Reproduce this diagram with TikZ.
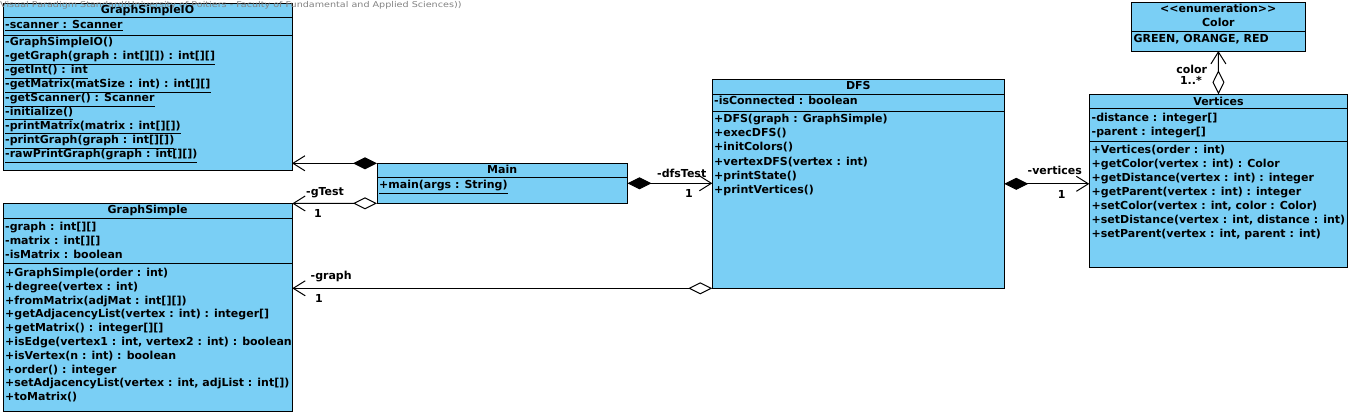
\documentclass[tikz,border=0pt]{standalone}
\usepackage{fontspec}
\usepackage{graphicx}
\setmainfont{DejaVu Sans}
\usetikzlibrary{arrows.meta}
\definecolor{vpblue}{RGB}{122,207,245}
\definecolor{wmgray}{RGB}{130,130,130}
\newcommand\rowtext[4]{\node[txt] (#1) at (#2,#3) {#4};}
\begin{document}
\begin{tikzpicture}[x=1pt,y=-1pt,
  font=\fontsize{11}{13}\selectfont\bfseries,
  cls/.style={draw=black, fill=vpblue, line width=1pt, inner sep=0pt, outer sep=0pt, anchor=north west},
  txt/.style={inner sep=0pt, anchor=mid west},
  ttl/.style={inner sep=0pt, anchor=mid},
  lbl/.style={inner sep=0pt},
  sepline/.style={line width=1pt},
  comp/.style={line width=1pt, {Diamond[length=24pt,width=12pt]}-{Straight Barb[length=12pt,width=15pt]}},
  aggr/.style={line width=1pt, {Diamond[open,fill=white,length=24pt,width=12pt]}-{Straight Barb[length=12pt,width=15pt]}},
  wm/.style={inner sep=0pt, anchor=mid west, text=wmgray, font=\fontsize{8}{9}\selectfont\mdseries}
]
\useasboundingbox (0,0) rectangle (1351,415);

% ---------- GraphSimpleIO ----------
\node[cls, minimum width=289pt, minimum height=167pt] (gsio) at (3,3) {};
\node[wm] (watermark) at (0,5) {\scalebox{1.2}[1]{Visual Paradigm Standard(University of Poitiers - Faculty of Fundamental and Applied Sciences))}};
\draw[sepline] (3,17.7) -- (292,17.7);
\draw[sepline] (3,35.5) -- (292,35.5);
\node[ttl] (gsio-t) at (147.5,10.8) {GraphSimpleIO};
\rowtext{gsio-a1}{5}{25.5}{\underline{-scanner : Scanner}}
\rowtext{gsio-m1}{5}{43.2}{-GraphSimpleIO()}
\rowtext{gsio-m2}{5}{57.2}{\underline{-getGraph(graph : int[][]) : int[][]}}
\rowtext{gsio-m3}{5}{71.2}{\underline{-getInt() : int}}
\rowtext{gsio-m4}{5}{85.2}{\underline{-getMatrix(matSize : int) : int[][]}}
\rowtext{gsio-m5}{5}{99.2}{\underline{-getScanner() : Scanner}}
\rowtext{gsio-m6}{5}{113.2}{\underline{-initialize()}}
\rowtext{gsio-m7}{5}{127.2}{\underline{-printMatrix(matrix : int[][])}}
\rowtext{gsio-m8}{5}{141.2}{\underline{-printGraph(graph : int[][])}}
\rowtext{gsio-m9}{5}{155.2}{\underline{-rawPrintGraph(graph : int[][])}}

% ---------- GraphSimple ----------
\node[cls, minimum width=289.3pt, minimum height=208pt] (gs) at (3,203.5) {};
\draw[sepline] (3,218.3) -- (292.3,218.3);
\draw[sepline] (3,263.3) -- (292.3,263.3);
\node[ttl] (gs-t) at (147.6,210.8) {GraphSimple};
\rowtext{gs-a1}{5}{227.8}{-graph : int[][]}
\rowtext{gs-a2}{5}{241.8}{-matrix : int[][]}
\rowtext{gs-a3}{5}{255.8}{-isMatrix : boolean}
\rowtext{gs-m1}{5}{273.8}{+GraphSimple(order : int)}
\rowtext{gs-m2}{5}{287.6}{+degree(vertex : int)}
\rowtext{gs-m3}{5}{301.4}{+fromMatrix(adjMat : int[][])}
\rowtext{gs-m4}{5}{315.2}{+getAdjacencyList(vertex : int) : integer[]}
\rowtext{gs-m5}{5}{329.0}{+getMatrix() : integer[][]}
\rowtext{gs-m6}{5}{342.8}{+isEdge(vertex1 : int, vertex2 : int) : boolean}
\rowtext{gs-m7}{5}{356.6}{+isVertex(n : int) : boolean}
\rowtext{gs-m8}{5}{370.4}{+order() : integer}
\rowtext{gs-m9}{5}{384.2}{+setAdjacencyList(vertex : int, adjList : int[])}
\rowtext{gs-m10}{5}{398.0}{+toMatrix()}

% ---------- Main ----------
\node[cls, minimum width=250.5pt, minimum height=40pt] (main) at (377,163.3) {};
\draw[sepline] (377,177.7) -- (627.5,177.7);
\node[ttl] (main-t) at (502.2,170.5) {Main};
\rowtext{main-m1}{379}{186.2}{\underline{+main(args : String)}}

% ---------- DFS ----------
\node[cls, minimum width=292pt, minimum height=209pt] (dfs) at (712.3,79.3) {};
\draw[sepline] (712.3,94) -- (1004.3,94);
\draw[sepline] (712.3,111.7) -- (1004.3,111.7);
\node[ttl] (dfs-t) at (858.3,87.2) {DFS};
\rowtext{dfs-a1}{714}{102.2}{-isConnected : boolean}
\rowtext{dfs-m1}{714}{119.8}{+DFS(graph : GraphSimple)}
\rowtext{dfs-m2}{714}{134.0}{+execDFS()}
\rowtext{dfs-m3}{714}{148.2}{+initColors()}
\rowtext{dfs-m4}{714}{162.4}{+vertexDFS(vertex : int)}
\rowtext{dfs-m5}{714}{176.6}{+printState()}
\rowtext{dfs-m6}{714}{190.8}{+printVertices()}

% ---------- Vertices ----------
\node[cls, minimum width=258.4pt, minimum height=173pt] (vert) at (1089.3,94.3) {};
\draw[sepline] (1089.3,108.3) -- (1347.7,108.3);
\draw[sepline] (1089.3,141.7) -- (1347.7,141.7);
\node[ttl] (vert-t) at (1218.5,103.2) {Vertices};
\rowtext{vert-a1}{1091.5}{118.8}{-distance : integer[]}
\rowtext{vert-a2}{1091.5}{132.8}{-parent : integer[]}
\rowtext{vert-m1}{1091.5}{150.5}{+Vertices(order : int)}
\rowtext{vert-m2}{1091.5}{164.5}{+getColor(vertex : int) : Color}
\rowtext{vert-m3}{1091.5}{178.6}{+getDistance(vertex : int) : integer}
\rowtext{vert-m4}{1091.5}{192.6}{+getParent(vertex : int) : integer}
\rowtext{vert-m5}{1091.5}{206.7}{+setColor(vertex : int, color : Color)}
\rowtext{vert-m6}{1091.5}{220.7}{+setDistance(vertex : int, distance : int)}
\rowtext{vert-m7}{1091.5}{234.8}{+setParent(vertex : int, parent : int)}

% ---------- Color ----------
\node[cls, minimum width=173.3pt, minimum height=48.3pt] (color) at (1131.7,2.7) {};
\draw[sepline] (1131.7,31.7) -- (1305,31.7);
\node[ttl] (color-s) at (1218.3,9.8) {<\kern0pt<enumeration>\kern0pt>};
\node[ttl] (color-t) at (1218.3,23.8) {Color};
\rowtext{color-v}{1133.5}{39.8}{GREEN, ORANGE, RED}

% ---------- connectors ----------
\draw[comp] (main.north west) -- (gsio.east |- main.north west);
\draw[aggr] (main.south west) -- (gs.north east);
\draw[aggr] (dfs.south west) -- (gs.east |- dfs.south west);
\draw[comp] (main.east) -- (dfs.west |- main.east);
\draw[comp] (dfs.east) -- (vert.west |- dfs.east);
\draw[aggr] (vert.north) -- (color.south);

% ---------- labels ----------
\node[lbl, anchor=mid west] (l-gtest) at (306,193.2) {-gTest};
\node[lbl] (l-gtest1) at (318,213) {1};
\node[lbl, anchor=mid west] (l-graph) at (310.5,276.5) {-graph};
\node[lbl] (l-graph1) at (319,298.3) {1};
\node[lbl, anchor=mid west] (l-dfs) at (657,174.5) {-dfsTest};
\node[lbl] (l-dfs1) at (689,193.3) {1};
\node[lbl, anchor=mid west] (l-vert) at (1027.5,172.2) {-vertices};
\node[lbl] (l-vert1) at (1061.7,194.3) {1};
\node[lbl] (l-color) at (1191.7,69.5) {color};
\node[lbl, anchor=mid east] (l-color1) at (1202,81.5) {1..*};
\end{tikzpicture}
\end{document}
